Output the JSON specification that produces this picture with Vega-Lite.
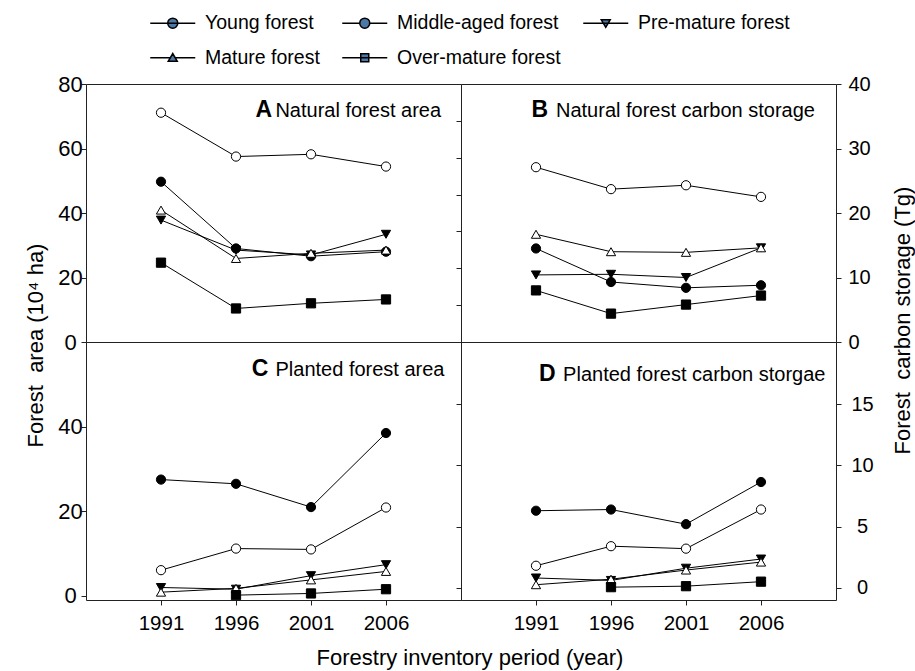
{
  "$schema": "https://vega.github.io/schema/vega-lite/v6.json",
  "padding": {"left": 23, "top": 12, "right": 5, "bottom": 8},
  "datasets": {
    "natArea": [
      {"s": "Young forest", "yr": 1991, "v": 49.7}, {"s": "Young forest", "yr": 1996, "v": 29.0}, {"s": "Young forest", "yr": 2001, "v": 26.6}, {"s": "Young forest", "yr": 2006, "v": 28.0},
      {"s": "Middle-aged forest", "yr": 1991, "v": 71.1}, {"s": "Middle-aged forest", "yr": 1996, "v": 57.5}, {"s": "Middle-aged forest", "yr": 2001, "v": 58.2}, {"s": "Middle-aged forest", "yr": 2006, "v": 54.4},
      {"s": "Pre-mature forest", "yr": 1991, "v": 37.8}, {"s": "Pre-mature forest", "yr": 1996, "v": 28.5}, {"s": "Pre-mature forest", "yr": 2001, "v": 27.0}, {"s": "Pre-mature forest", "yr": 2006, "v": 33.4},
      {"s": "Mature forest", "yr": 1991, "v": 40.9}, {"s": "Mature forest", "yr": 1996, "v": 25.9}, {"s": "Mature forest", "yr": 2001, "v": 27.5}, {"s": "Mature forest", "yr": 2006, "v": 28.5},
      {"s": "Over-mature forest", "yr": 1991, "v": 24.6}, {"s": "Over-mature forest", "yr": 1996, "v": 10.4}, {"s": "Over-mature forest", "yr": 2001, "v": 12.0}, {"s": "Over-mature forest", "yr": 2006, "v": 13.2}
    ],
    "natCarbon": [
      {"s": "Young forest", "yr": 1991, "v": 14.5}, {"s": "Young forest", "yr": 1996, "v": 9.3}, {"s": "Young forest", "yr": 2001, "v": 8.4}, {"s": "Young forest", "yr": 2006, "v": 8.8},
      {"s": "Middle-aged forest", "yr": 1991, "v": 27.1}, {"s": "Middle-aged forest", "yr": 1996, "v": 23.7}, {"s": "Middle-aged forest", "yr": 2001, "v": 24.3}, {"s": "Middle-aged forest", "yr": 2006, "v": 22.5},
      {"s": "Pre-mature forest", "yr": 1991, "v": 10.4}, {"s": "Pre-mature forest", "yr": 1996, "v": 10.5}, {"s": "Pre-mature forest", "yr": 2001, "v": 10.0}, {"s": "Pre-mature forest", "yr": 2006, "v": 14.6},
      {"s": "Mature forest", "yr": 1991, "v": 16.7}, {"s": "Mature forest", "yr": 1996, "v": 14.0}, {"s": "Mature forest", "yr": 2001, "v": 13.9}, {"s": "Mature forest", "yr": 2006, "v": 14.6},
      {"s": "Over-mature forest", "yr": 1991, "v": 8.0}, {"s": "Over-mature forest", "yr": 1996, "v": 4.4}, {"s": "Over-mature forest", "yr": 2001, "v": 5.8}, {"s": "Over-mature forest", "yr": 2006, "v": 7.2}
    ],
    "plantArea": [
      {"s": "Young forest", "yr": 1991, "v": 27.5}, {"s": "Young forest", "yr": 1996, "v": 26.5}, {"s": "Young forest", "yr": 2001, "v": 21.0}, {"s": "Young forest", "yr": 2006, "v": 38.5},
      {"s": "Middle-aged forest", "yr": 1991, "v": 6.1}, {"s": "Middle-aged forest", "yr": 1996, "v": 11.2}, {"s": "Middle-aged forest", "yr": 2001, "v": 11.0}, {"s": "Middle-aged forest", "yr": 2006, "v": 20.9},
      {"s": "Pre-mature forest", "yr": 1991, "v": 2.0}, {"s": "Pre-mature forest", "yr": 1996, "v": 1.6}, {"s": "Pre-mature forest", "yr": 2001, "v": 4.8}, {"s": "Pre-mature forest", "yr": 2006, "v": 7.4},
      {"s": "Mature forest", "yr": 1991, "v": 0.9}, {"s": "Mature forest", "yr": 1996, "v": 1.8}, {"s": "Mature forest", "yr": 2001, "v": 3.8}, {"s": "Mature forest", "yr": 2006, "v": 5.8},
      {"s": "Over-mature forest", "yr": 1996, "v": 0.2}, {"s": "Over-mature forest", "yr": 2001, "v": 0.6}, {"s": "Over-mature forest", "yr": 2006, "v": 1.6}
    ],
    "plantCarbon": [
      {"s": "Young forest", "yr": 1991, "v": 6.3}, {"s": "Young forest", "yr": 1996, "v": 6.4}, {"s": "Young forest", "yr": 2001, "v": 5.2}, {"s": "Young forest", "yr": 2006, "v": 8.65},
      {"s": "Middle-aged forest", "yr": 1991, "v": 1.8}, {"s": "Middle-aged forest", "yr": 1996, "v": 3.4}, {"s": "Middle-aged forest", "yr": 2001, "v": 3.2}, {"s": "Middle-aged forest", "yr": 2006, "v": 6.4},
      {"s": "Pre-mature forest", "yr": 1991, "v": 0.8}, {"s": "Pre-mature forest", "yr": 1996, "v": 0.6}, {"s": "Pre-mature forest", "yr": 2001, "v": 1.6}, {"s": "Pre-mature forest", "yr": 2006, "v": 2.35},
      {"s": "Mature forest", "yr": 1991, "v": 0.25}, {"s": "Mature forest", "yr": 1996, "v": 0.7}, {"s": "Mature forest", "yr": 2001, "v": 1.45}, {"s": "Mature forest", "yr": 2006, "v": 2.1},
      {"s": "Over-mature forest", "yr": 1996, "v": 0.05}, {"s": "Over-mature forest", "yr": 2001, "v": 0.13}, {"s": "Over-mature forest", "yr": 2006, "v": 0.5}
    ]
  },
  "columns": 2,
  "spacing": 0,
  "bounds": "flush",
  "resolve": {"scale": {"shape": "independent", "fill": "independent"}, "legend": {"shape": "independent", "fill": "independent"}},
  "concat": [
    {
      "width": 375, "height": 258,
      "resolve": {"axis": {"x": "independent", "y": "independent"}, "scale": {"shape": "independent"}},
      "layer": [
        {
          "data": {"name": "natArea"},
          "mark": {"type": "line", "color": "black", "strokeWidth": 1},
          "encoding": {
            "x": {"field": "yr", "type": "quantitative", "scale": {"domain": [1986, 2011], "nice": false, "zero": false}, "axis": null},
            "y": {"field": "v", "type": "quantitative", "scale": {"domain": [0, 80], "nice": false, "zero": false},
                  "axis": {"orient": "left", "values": [0, 20, 40, 60, 80], "labelFontSize": 22, "labelAlign": "center", "labelPadding": 11,
                           "title": "Forest\u00a0 area (10⁴ ha)", "titleX": -44, "titleY": 261, "titleAngle": -90, "titleAlign": "center", "titleBaseline": "alphabetic"}},
            "detail": {"field": "s"}
          }
        },
        {
          "data": {"name": "natArea"},
          "mark": {"type": "point", "filled": true, "opacity": 1, "stroke": "black", "strokeWidth": 1, "size": 85},
          "encoding": {
            "x": {"field": "yr", "type": "quantitative", "axis": null},
            "y": {"field": "v", "type": "quantitative", "axis": null},
            "shape": {"field": "s", "type": "nominal",
                      "scale": {"domain": ["Young forest", "Middle-aged forest", "Pre-mature forest", "Mature forest", "Over-mature forest"], "range": ["circle", "circle", "triangle-down", "triangle-up", "square"]},
                      "legend": null},
            "fill": {"field": "s", "type": "nominal",
                     "scale": {"domain": ["Young forest", "Middle-aged forest", "Pre-mature forest", "Mature forest", "Over-mature forest"], "range": ["black", "white", "black", "white", "black"]},
                     "legend": null}
          }
        },
        {
          "data": {"name": "natArea"},
          "transform": [{"filter": "false"}],
          "mark": {"type": "point", "filled": true, "opacity": 1, "stroke": "black", "strokeWidth": 1, "size": 100},
          "encoding": {
            "shape": {"field": "s", "type": "nominal",
                      "scale": {"domain": ["Young forest", "Middle-aged forest", "Pre-mature forest", "Mature forest", "Over-mature forest"],
                                "range": ["M-4.5,0H4.5M-1,0A1,1 0 1,0 1,0A1,1 0 1,0 -1,0Z",
                                          "M-4.5,0H-1M1,0H4.5M-1,0A1,1 0 1,0 1,0A1,1 0 1,0 -1,0Z",
                                          "M-4.5,0H4.5M-0.9,-0.7L0.9,-0.7L0,0.85Z",
                                          "M-4.5,0H-0.49M0.49,0H4.5M-0.9,0.7L0.9,0.7L0,-0.85Z",
                                          "M-4.5,0H4.5M-0.8,-0.8H0.8V0.8H-0.8Z"]},
                      "legend": {"orient": "none", "legendX": 77, "legendY": -71, "direction": "horizontal", "columns": 3, "title": null,
                                 "labelFontSize": 19.5, "labelLimit": 400, "labelColor": "black", "symbolSize": 100, "labelOffset": 22.5,
                                 "columnPadding": 19, "rowPadding": 14, "gridAlign": "each", "padding": 0,
                                 "encode": {"symbols": {
                                   "fill": {"condition": {"test": "datum.value === 'Middle-aged forest' || datum.value === 'Mature forest'", "value": "white"}, "value": "black"},
                                   "stroke": {"value": "black"},
                                   "strokeWidth": {"value": 1},
                                   "opacity": {"value": 1}
                                 }}}}
          }
        },
        {
          "data": {"values": [{}]},
          "mark": {"type": "text", "text": "A", "fontWeight": "bold", "fontSize": 23, "align": "right", "baseline": "alphabetic", "color": "black"},
          "encoding": {"x": {"datum": 1998.4, "type": "quantitative", "axis": null}, "y": {"datum": 69.9, "type": "quantitative", "axis": null}}
        },
        {
          "data": {"values": [{}]},
          "mark": {"type": "text", "text": "Natural forest area", "fontSize": 20, "align": "right", "baseline": "alphabetic", "color": "black"},
          "encoding": {"x": {"datum": 2009.67, "type": "quantitative", "axis": null}, "y": {"datum": 69.9, "type": "quantitative", "axis": null}}
        }
      ]
    },
    {
      "width": 375, "height": 258,
      "resolve": {"axis": {"x": "independent", "y": "independent"}},
      "layer": [
        {
          "data": {"name": "natCarbon"},
          "mark": {"type": "line", "color": "black", "strokeWidth": 1},
          "encoding": {
            "x": {"field": "yr", "type": "quantitative", "scale": {"domain": [1986, 2011], "nice": false, "zero": false}, "axis": null},
            "y": {"field": "v", "type": "quantitative", "scale": {"domain": [0, 40], "nice": false, "zero": false},
                  "axis": {"orient": "right", "values": [0, 10, 20, 30, 40], "labelFontSize": 20, "labelAlign": "left", "labelPadding": 7,
                           "title": "Forest\u00a0 carbon storage (Tg)", "titleX": 73, "titleY": 236, "titleAngle": -90, "titleAlign": "center", "titleBaseline": "alphabetic"}},
            "detail": {"field": "s"}
          }
        },
        {
          "data": {"name": "natCarbon"},
          "mark": {"type": "point", "filled": true, "opacity": 1, "stroke": "black", "strokeWidth": 1, "size": 85},
          "encoding": {
            "x": {"field": "yr", "type": "quantitative", "axis": null},
            "y": {"field": "v", "type": "quantitative",
                  "axis": {"orient": "left", "values": [5.714, 11.429, 17.143, 22.857, 28.571, 34.286], "labels": false, "title": null}},
            "shape": {"field": "s", "type": "nominal",
                      "scale": {"domain": ["Young forest", "Middle-aged forest", "Pre-mature forest", "Mature forest", "Over-mature forest"], "range": ["circle", "circle", "triangle-down", "triangle-up", "square"]},
                      "legend": null},
            "fill": {"field": "s", "type": "nominal",
                     "scale": {"domain": ["Young forest", "Middle-aged forest", "Pre-mature forest", "Mature forest", "Over-mature forest"], "range": ["black", "white", "black", "white", "black"]},
                     "legend": null}
          }
        },
        {
          "data": {"values": [{}]},
          "mark": {"type": "text", "text": "B", "fontWeight": "bold", "fontSize": 23, "align": "right", "baseline": "alphabetic", "color": "black"},
          "encoding": {"x": {"datum": 1991.8, "type": "quantitative", "axis": null}, "y": {"datum": 34.9, "type": "quantitative", "axis": null}}
        },
        {
          "data": {"values": [{}]},
          "mark": {"type": "text", "text": "Natural forest carbon storage", "fontSize": 20, "align": "right", "baseline": "alphabetic", "color": "black"},
          "encoding": {"x": {"datum": 2009.6, "type": "quantitative", "axis": null}, "y": {"datum": 34.9, "type": "quantitative", "axis": null}}
        }
      ]
    },
    {
      "width": 375, "height": 258,
      "resolve": {"axis": {"x": "independent", "y": "independent"}},
      "layer": [
        {
          "data": {"name": "plantArea"},
          "mark": {"type": "line", "color": "black", "strokeWidth": 1},
          "encoding": {
            "x": {"field": "yr", "type": "quantitative", "scale": {"domain": [1986, 2011], "nice": false, "zero": false},
                  "axis": {"orient": "bottom", "values": [1991, 1996, 2001, 2006], "format": "d", "labelFontSize": 20.5, "labelPadding": 8,
                           "title": "Forestry inventory period (year)", "titleX": 383.5, "titleY": 64, "titleAlign": "center", "titleBaseline": "alphabetic"}},
            "y": {"field": "v", "type": "quantitative", "scale": {"domain": [-0.95, 60], "nice": false, "zero": false},
                  "axis": {"orient": "left", "values": [0, 20, 40], "labelFontSize": 22, "labelAlign": "center", "labelPadding": 11, "title": null}},
            "detail": {"field": "s"}
          }
        },
        {
          "data": {"name": "plantArea"},
          "mark": {"type": "point", "filled": true, "opacity": 1, "stroke": "black", "strokeWidth": 1, "size": 85},
          "encoding": {
            "x": {"field": "yr", "type": "quantitative", "axis": null},
            "y": {"field": "v", "type": "quantitative", "axis": null},
            "shape": {"field": "s", "type": "nominal",
                      "scale": {"domain": ["Young forest", "Middle-aged forest", "Pre-mature forest", "Mature forest", "Over-mature forest"], "range": ["circle", "circle", "triangle-down", "triangle-up", "square"]},
                      "legend": null},
            "fill": {"field": "s", "type": "nominal",
                     "scale": {"domain": ["Young forest", "Middle-aged forest", "Pre-mature forest", "Mature forest", "Over-mature forest"], "range": ["black", "white", "black", "white", "black"]},
                     "legend": null}
          }
        },
        {
          "data": {"values": [{}]},
          "mark": {"type": "text", "text": "C", "fontWeight": "bold", "fontSize": 23, "align": "right", "baseline": "alphabetic", "color": "black"},
          "encoding": {"x": {"datum": 1998.15, "type": "quantitative", "axis": null}, "y": {"datum": 52.0, "type": "quantitative", "axis": null}}
        },
        {
          "data": {"values": [{}]},
          "mark": {"type": "text", "text": "Planted forest area", "fontSize": 20, "align": "right", "baseline": "alphabetic", "color": "black"},
          "encoding": {"x": {"datum": 2009.9, "type": "quantitative", "axis": null}, "y": {"datum": 52.0, "type": "quantitative", "axis": null}}
        }
      ]
    },
    {
      "width": 375, "height": 258,
      "resolve": {"axis": {"x": "independent", "y": "independent"}},
      "layer": [
        {
          "data": {"name": "plantCarbon"},
          "mark": {"type": "line", "color": "black", "strokeWidth": 1},
          "encoding": {
            "x": {"field": "yr", "type": "quantitative", "scale": {"domain": [1986, 2011], "nice": false, "zero": false},
                  "axis": {"orient": "bottom", "values": [1991, 1996, 2001, 2006], "format": "d", "labelFontSize": 20.5, "labelPadding": 8, "title": null}},
            "y": {"field": "v", "type": "quantitative", "scale": {"domain": [-1, 20.1], "nice": false, "zero": false},
                  "axis": {"orient": "right", "values": [0, 5, 10, 15], "labelFontSize": 20, "labelAlign": "center", "labelPadding": 21, "title": null}},
            "detail": {"field": "s"}
          }
        },
        {
          "data": {"name": "plantCarbon"},
          "mark": {"type": "point", "filled": true, "opacity": 1, "stroke": "black", "strokeWidth": 1, "size": 85},
          "encoding": {
            "x": {"field": "yr", "type": "quantitative", "axis": null},
            "y": {"field": "v", "type": "quantitative",
                  "axis": {"orient": "left", "values": [0, 5, 10, 15], "labels": false, "title": null}},
            "shape": {"field": "s", "type": "nominal",
                      "scale": {"domain": ["Young forest", "Middle-aged forest", "Pre-mature forest", "Mature forest", "Over-mature forest"], "range": ["circle", "circle", "triangle-down", "triangle-up", "square"]},
                      "legend": null},
            "fill": {"field": "s", "type": "nominal",
                     "scale": {"domain": ["Young forest", "Middle-aged forest", "Pre-mature forest", "Mature forest", "Over-mature forest"], "range": ["black", "white", "black", "white", "black"]},
                     "legend": null}
          }
        },
        {
          "data": {"values": [{}]},
          "mark": {"type": "text", "text": "D", "fontWeight": "bold", "fontSize": 23, "align": "right", "baseline": "alphabetic", "color": "black"},
          "encoding": {"x": {"datum": 1992.3, "type": "quantitative", "axis": null}, "y": {"datum": 16.9, "type": "quantitative", "axis": null}}
        },
        {
          "data": {"values": [{}]},
          "mark": {"type": "text", "text": "Planted forest carbon storgae", "fontSize": 20, "align": "right", "baseline": "alphabetic", "color": "black"},
          "encoding": {"x": {"datum": 2010.3, "type": "quantitative", "axis": null}, "y": {"datum": 16.9, "type": "quantitative", "axis": null}}
        }
      ]
    }
  ],
  "config": {
    "font": "Liberation Sans",
    "background": "white",
    "view": {"stroke": "#222", "strokeWidth": 1},
    "axis": {"grid": false, "domain": false, "tickColor": "#222", "tickSize": 5, "tickWidth": 1,
             "labelColor": "black", "labelFont": "Liberation Sans", "titleColor": "black", "titleFont": "Liberation Sans",
             "titleFontWeight": "normal", "titleFontSize": 22, "labelFlush": false, "labelOverlap": false},
    "legend": {"labelFont": "Liberation Sans"}
  }
}
